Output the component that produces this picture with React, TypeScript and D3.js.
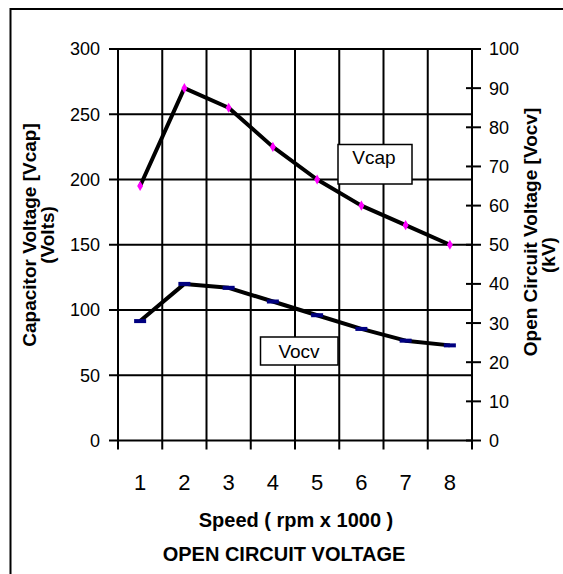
import React, { useRef, useEffect } from 'react';
import * as d3 from 'd3';

const speeds = ['1', '2', '3', '4', '5', '6', '7', '8'];
const vcap = [195, 270, 255, 225, 200, 180, 165, 150];
const vocv = [30.5, 40, 39, 35.5, 32, 28.5, 25.5, 24.3];
const leftTicks = [0, 50, 100, 150, 200, 250, 300];
const rightTicks = [0, 10, 20, 30, 40, 50, 60, 70, 80, 90, 100];

const W = 563;
const H = 574;
const FONT = 'Liberation Sans, Arial, sans-serif';

const App: React.FC = () => {
  const svgRef = useRef<SVGSVGElement | null>(null);

  useEffect(() => {
    const svg = d3.select(svgRef.current);
    svg.selectAll('*').remove();

    const left = 118, right = 472, top = 49, bottom = 440.5;

    const x = d3.scaleBand<string>().domain(speeds).range([left, right]);
    const yL = d3.scaleLinear().domain([0, 300]).range([bottom, top]);
    const yR = d3.scaleLinear().domain([0, 100]).range([bottom, top]);

    // outer frame (runs off the right and bottom)
    svg.append('rect')
      .attr('x', 10.5).attr('y', 9).attr('width', 600).attr('height', 600)
      .attr('fill', 'white').attr('stroke', 'black').attr('stroke-width', 2);

    const g = svg.append('g');

    // horizontal gridlines + left ticks
    g.selectAll('line.hgrid')
      .data(leftTicks)
      .enter()
      .append('line')
      .attr('x1', left - 9).attr('x2', right)
      .attr('y1', d => yL(d)).attr('y2', d => yL(d))
      .attr('stroke', 'black').attr('stroke-width', 2);

    // vertical gridlines at band edges, ticks below
    const edges = speeds.map(s => x(s)!).concat([right]);
    g.selectAll('line.vgrid')
      .data(edges)
      .enter()
      .append('line')
      .attr('x1', d => d).attr('x2', d => d)
      .attr('y1', top).attr('y2', bottom + 9)
      .attr('stroke', 'black').attr('stroke-width', 2);

    // right axis ticks
    g.selectAll('line.rtick')
      .data(rightTicks)
      .enter()
      .append('line')
      .attr('x1', right - 6).attr('x2', right + 9)
      .attr('y1', d => yR(d)).attr('y2', d => yR(d))
      .attr('stroke', 'black').attr('stroke-width', 2);

    // tick labels
    g.selectAll('text.lt')
      .data(leftTicks)
      .enter()
      .append('text')
      .attr('x', 100).attr('y', d => yL(d))
      .attr('dy', '0.36em')
      .attr('text-anchor', 'end')
      .style('font-family', FONT).style('font-size', '18px')
      .text(d => d);

    g.selectAll('text.rt')
      .data(rightTicks)
      .enter()
      .append('text')
      .attr('x', 489).attr('y', d => yR(d))
      .attr('dy', '0.36em')
      .style('font-family', FONT).style('font-size', '18px')
      .text(d => d);

    g.selectAll('text.xt')
      .data(speeds)
      .enter()
      .append('text')
      .attr('x', d => x(d)! + x.bandwidth() / 2).attr('y', 490)
      .attr('text-anchor', 'middle')
      .style('font-family', FONT).style('font-size', '22px')
      .text(d => d);

    const cx = (i: number) => x(speeds[i])! + x.bandwidth() / 2;

    // Vcap line + markers
    const lineL = d3.line<number>().x((_, i) => cx(i)).y(d => yL(d));
    g.append('path')
      .attr('d', lineL(vcap)!)
      .attr('fill', 'none').attr('stroke', 'black').attr('stroke-width', 4)
      .attr('stroke-linejoin', 'round');

    g.selectAll('path.vcapm')
      .data(vcap)
      .enter()
      .append('path')
      .attr('d', d3.symbol().type(d3.symbolDiamond).size(30)()!)
      .attr('transform', (d, i) => `translate(${cx(i)},${yL(d)})`)
      .attr('fill', '#ff00ff');

    // Vocv line + markers
    const lineR = d3.line<number>().x((_, i) => cx(i)).y(d => yR(d));
    g.append('path')
      .attr('d', lineR(vocv)!)
      .attr('fill', 'none').attr('stroke', 'black').attr('stroke-width', 4)
      .attr('stroke-linejoin', 'round');

    g.selectAll('rect.vocvm')
      .data(vocv)
      .enter()
      .append('rect')
      .attr('x', (d, i) => cx(i) - 6).attr('y', d => yR(d) - 2)
      .attr('width', 12).attr('height', 4)
      .attr('fill', '#000080');

    // series labels
    g.append('rect')
      .attr('x', 338).attr('y', 144.5).attr('width', 74).attr('height', 39.5)
      .attr('fill', 'white').attr('stroke', 'black').attr('stroke-width', 1.5);
    g.append('text')
      .attr('x', 374).attr('y', 164)
      .attr('text-anchor', 'middle')
      .style('font-family', FONT).style('font-size', '19px')
      .text('Vcap');

    g.append('rect')
      .attr('x', 260.5).attr('y', 337).attr('width', 77.5).attr('height', 28)
      .attr('fill', 'white').attr('stroke', 'black').attr('stroke-width', 1.5);
    g.append('text')
      .attr('x', 299).attr('y', 358)
      .attr('text-anchor', 'middle')
      .style('font-family', FONT).style('font-size', '19px')
      .text('Vocv');

    // axis titles
    g.append('text')
      .attr('transform', 'translate(36,235) rotate(-90)')
      .attr('text-anchor', 'middle')
      .style('font-family', FONT).style('font-size', '19px').style('font-weight', 'bold')
      .text('Capacitor Voltage [Vcap]');
    g.append('text')
      .attr('transform', 'translate(54,235) rotate(-90)')
      .attr('text-anchor', 'middle')
      .style('font-family', FONT).style('font-size', '19px').style('font-weight', 'bold')
      .text('(Volts)');

    g.append('text')
      .attr('transform', 'translate(537,232) rotate(-90)')
      .attr('text-anchor', 'middle')
      .style('font-family', FONT).style('font-size', '19px').style('font-weight', 'bold')
      .text('Open Circuit Voltage [Vocv]');
    g.append('text')
      .attr('transform', 'translate(555,255) rotate(-90)')
      .attr('text-anchor', 'middle')
      .style('font-family', FONT).style('font-size', '19px').style('font-weight', 'bold')
      .text('(kV)');

    g.append('text')
      .attr('x', 296).attr('y', 527)
      .attr('text-anchor', 'middle')
      .style('font-family', FONT).style('font-size', '20px').style('font-weight', 'bold')
      .text('Speed ( rpm x 1000 )');

    g.append('text')
      .attr('x', 284).attr('y', 561)
      .attr('text-anchor', 'middle')
      .style('font-family', FONT).style('font-size', '20px').style('font-weight', 'bold')
      .text('OPEN CIRCUIT VOLTAGE');

    return () => {
      svg.selectAll('*').remove();
    };
  }, []);

  return (
    <svg
      ref={svgRef}
      width={W}
      height={H}
      style={{ position: 'absolute', left: 0, top: 0, background: 'white' }}
    />
  );
};

export default App;
